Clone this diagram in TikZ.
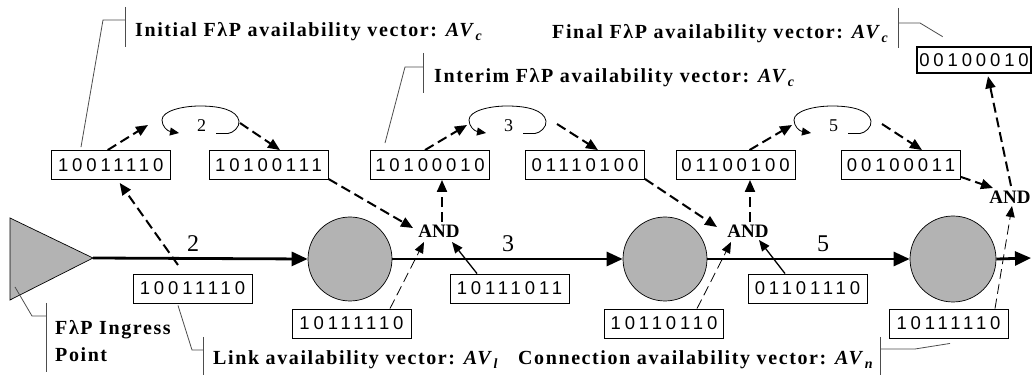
\documentclass[tikz,border=0pt]{standalone}
\usepackage{fontspec}
\setmainfont{Liberation Serif}
\newfontfamily\lblfont[LetterSpace=8]{Liberation Serif}
\newfontfamily\binfont[LetterSpace=21]{Liberation Sans}
\usetikzlibrary{arrows.meta,calc}
\definecolor{nodegray}{HTML}{B3B3B3}
\definecolor{calloutgray}{HTML}{4D4D4D}
\newcommand{\avsub}[1]{\textit{AV}\raisebox{-4pt}{\fontsize{14}{14}\selectfont\textit{#1}}}
\tikzset{
  vec/.style={draw, line width=0.9pt, minimum width=119pt, minimum height=29pt, inner sep=0pt,
    font=\binfont\fontsize{18.5}{18.5}\selectfont},
  finalvec/.style={vec, line width=2.6pt, minimum width=114pt, minimum height=26pt},
  lbl/.style={anchor=base west, inner sep=0pt, font=\lblfont\bfseries\fontsize{20}{24}\selectfont},
  andlbl/.style={inner sep=0pt, font=\bfseries\fontsize{19}{19}\selectfont},
  linknum/.style={inner sep=0pt, font=\fontsize{24}{24}\selectfont},
  loopnum/.style={inner sep=0pt, font=\fontsize{18}{18}\selectfont},
  router/.style={circle, draw, line width=0.7pt, fill=nodegray, inner sep=0pt},
  mainline/.style={line width=2.8pt, -{Triangle[length=16pt,width=14pt]}},
  thickdash/.style={line width=2pt, dash pattern=on 10pt off 5pt, -{Triangle[length=12pt,width=10pt]}},
  thindash/.style={line width=0.8pt, dash pattern=on 10pt off 5pt, -{Triangle[length=11pt,width=9pt]}},
  solidarrow/.style={line width=1.3pt, -{Triangle[length=11pt,width=9pt]}},
  looppath/.style={line width=0.8pt, -{Triangle[length=9pt,width=8pt]}},
  callout/.style={line width=0.8pt, draw=calloutgray},
}
\begin{document}
\begin{tikzpicture}[x=1pt,y=-1pt]
\useasboundingbox (0,0) rectangle (1034,379);

% ingress triangle and routers
\path[draw, line width=0.7pt, fill=nodegray] (10,218) -- (10,300) -- (93,258) -- cycle;
\coordinate (ing) at (93,258);
\node[router, minimum size=84pt] (r1) at (350,259) {};
\node[router, minimum size=84pt] (r2) at (665,259) {};
\node[router, minimum size=86pt] (r3) at (953,259) {};
\coordinate (outend) at (1031,258);

% main links
\draw[mainline] (ing) -- (r1.west);
\draw[mainline] (r1.east) -- (r2.west);
\draw[mainline] (r2.east) -- (r3.west);
\draw[mainline] (r3.east) -- (outend);
\node[linknum] (n2) at (193,244) {2};
\node[linknum] (n3) at (508,244) {3};
\node[linknum] (n5) at (823,244) {5};

% top vectors
\node[vec] (b1) at (110.7,165) {10011110};
\node[vec] (b2) at (268.5,165) {10100111};
\node[vec] (b3) at (430,165) {10100010};
\node[vec] (b4) at (585,165) {01110100};
\node[vec] (b5) at (735.5,165) {01100100};
\node[vec] (b6) at (901,165) {00100011};
\node[finalvec] (bf) at (974,60) {00100010};

% link vectors
\node[vec] (l1) at (192.5,288.5) {10011110};
\node[vec] (l2) at (509.5,288.5) {10111011};
\node[vec] (l3) at (807.5,288.5) {01101110};

% connection vectors
\node[vec] (c1) at (351.5,323.5) {10111110};
\node[vec] (c2) at (664,323.5) {10110110};
\node[vec] (c3) at (948.5,323.5) {10111110};

% AND gates
\node[andlbl] (and1) at (439,231.5) {AND};
\node[andlbl] (and2) at (748,231.5) {AND};
\node[andlbl] (and3) at (1010,197) {AND};

% wavelength conversion loops
\foreach \dx/\lab in {0/2,307/3,632/5}{
  \begin{scope}[xshift=\dx pt]
    \draw[looppath] (216,133.5) -- (228,133.5) .. controls (233,133) and (240,127) .. (239,121)
      .. controls (237,110) and (220,106) .. (200,106)
      .. controls (182,106) and (162,111) .. (162,120)
      .. controls (162,126) and (167,131) .. (179,133);
    \node[loopnum] at (201.5,126) {\lab};
  \end{scope}
}
\coordinate (in2) at (148,125);  \coordinate (out2) at (240,123);
\coordinate (in3) at (467,125);  \coordinate (out3) at (557,124);
\coordinate (in5) at (792,125);  \coordinate (out5) at (882,124);

\draw[thickdash] ($(b1.north)+(-3,0)$) -- (in2);
\draw[thickdash] (out2) -- ($(b2.north)+(11.5,0)$);
\draw[thickdash] ($(b3.north)+(-5,0)$) -- (in3);
\draw[thickdash] (out3) -- ($(b4.north)+(13,0)$);
\draw[thickdash] ($(b5.north)+(14,0)$) -- (in5);
\draw[thickdash] (out5) -- ($(b6.north)+(21,0)$);

% link vector to initial vector
\coordinate (l1start) at (178,265);
\draw[thickdash] (l1start) -- ($(b1.south)+(9,3)$);

% into AND1
\draw[thickdash] ($(b2.south east)+(0,-1)$) -- (413,228);
\coordinate (u1) at ($(and1.north)+(3,-3)$);
\draw[thickdash] (u1) -- (u1 |- b3.south);
\draw[thindash] ($(c1.north)+(38.5,0)$) -- (424,242);
\draw[solidarrow] ($(l2.north)+(-32.5,0)$) -- (452,242);

% into AND2
\draw[thickdash] ($(b4.south east)+(0,-1)$) -- (717,227);
\coordinate (u2) at ($(and2.north)+(2,-3)$);
\draw[thickdash] (u2) -- (u2 |- b5.south);
\draw[thindash] ($(c2.north)+(33,0)$) -- (731,242);
\draw[solidarrow] ($(l3.north)+(-22.5,0)$) -- (759,240);

% into AND3 and final
\draw[thickdash] ($(b6.south east)+(0,-3)$) -- (993,188);
\draw[thindash] ($(c3.north)+(46.5,0)$) -- (1012,206);
\coordinate (u3) at (1011,186);
\draw[thickdash] (u3) -- ($(bf.south)+(14,2)$);

% callouts
\draw[callout] ($(b1.north)+(-29.7,-3)$) -- (103,20) -- (125,20);
\draw[callout] (125,7) -- (125,47);
\node[lbl] (tinit) at (135,37) {Initial FλP availability vector: \avsub{c}};

\draw[callout] ($(b3.north)+(-45,-7)$) -- (405,67) -- (423,67);
\draw[callout] (423,53) -- (423,93);
\node[lbl] (tinterim) at (434,83) {Interim FλP availability vector: \avsub{c}};

\draw[callout] ($(bf.north west)+(27,-9)$) -- (920,23) -- (898,23);
\draw[callout] (898,8) -- (898,48);
\node[lbl] (tfinal) at (552,39) {Final FλP availability vector: \avsub{c}};

\draw[callout] (15,287) -- (32,316) -- (46,316);
\draw[callout] (46,303) -- (46,372);
\node[lbl] (ting1) at (55,335) {FλP Ingress};
\node[lbl] (ting2) at (55,362) {Point};

\draw[callout] ($(l1.south)+(-14.5,2)$) -- (192,350) -- (203,350);
\draw[callout] (203,337) -- (203,375);
\node[lbl] (tlink) at (213,365) {Link availability vector: \avsub{l}};

\draw[callout] ($(c3.south)+(1.5,5)$) -- (915,349) -- (880,349);
\draw[callout] (880,337) -- (880,375);
\node[lbl] (tconn) at (518,365) {Connection availability vector: \avsub{n}};
\end{tikzpicture}
\end{document}
